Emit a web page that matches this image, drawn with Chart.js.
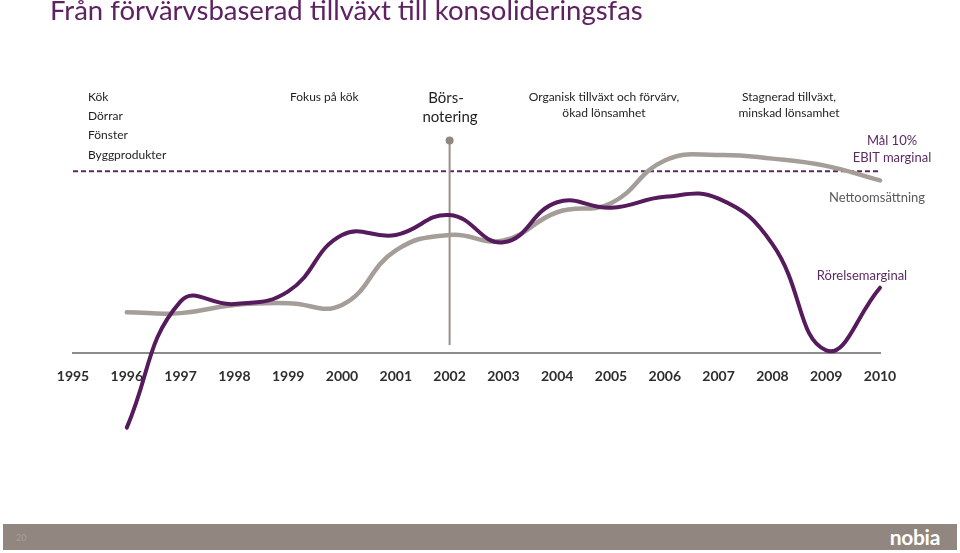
<!DOCTYPE html>
<html>
<head>
<meta charset="utf-8">
<script src="https://cdn.jsdelivr.net/npm/chart.js@4.4.1/dist/chart.umd.min.js"></script>
<style>
  html, body { margin:0; padding:0; background:#fff; }
  #wrap { position:relative; width:960px; height:553px; overflow:hidden; font-family: Lato, "Open Sans", sans-serif; }
  #c { position:absolute; left:0; top:0; }
  .t { position:absolute; white-space:nowrap; transform:translate(-50%,-50%); font-size:12px; color:#1e1e1e; line-height:1; }
  .l { position:absolute; white-space:nowrap; transform:translateY(-50%); font-size:12px; color:#1e1e1e; line-height:1; }
  .big { font-size:13px; }
  .title { position:absolute; left:50px; top:-7px; font-size:27.5px; color:#5e2262; white-space:nowrap; }
  .purple { color:#5c2a63; }
  .gray { color:#5a5a5a; }
  #footer { position:absolute; left:3px; top:524px; width:954px; height:26px; background:#928680; }
  #pg { position:absolute; left:13px; top:8px; font-size:9px; color:#a89f9a; }
  #logo { position:absolute; right:17px; top:0px; font-size:21px; font-weight:700; color:#fff; letter-spacing:-0.3px; }
</style>
</head>
<body>
<div id="wrap">
  <canvas id="c" width="960" height="553"></canvas>
  <div class="title">Från förvärvsbaserad tillväxt till konsolideringsfas</div>

  <div class="l" style="left:88px; top:97px;">Kök</div>
  <div class="l" style="left:88px; top:116px;">Dörrar</div>
  <div class="l" style="left:88px; top:135px;">Fönster</div>
  <div class="l" style="left:88px; top:155px;">Byggprodukter</div>
  <div class="l" style="left:290px; top:97px;">Fokus på kök</div>
  <div class="t" style="left:446px; top:97px; font-size:15px;">Börs-</div>
  <div class="t" style="left:450px; top:116px; font-size:15px;">notering</div>
  <div class="t" style="left:604px; top:97px;">Organisk tillväxt och förvärv,</div>
  <div class="t" style="left:604px; top:113px;">ökad lönsamhet</div>
  <div class="t" style="left:789px; top:97px;">Stagnerad tillväxt,</div>
  <div class="t" style="left:789px; top:113px;">minskad lönsamhet</div>
  <div class="t big purple" style="left:892px; top:140px;">Mål 10%</div>
  <div class="t big purple" style="left:892px; top:157px;">EBIT marginal</div>
  <div class="t big gray" style="left:877px; top:197px;">Nettoomsättning</div>
  <div class="t big purple" style="left:862px; top:275px;">Rörelsemarginal</div>

  <div id="footer"><div id="pg">20</div><div id="logo">nobia</div></div>
</div>
<script>
// ---- data ----
const years = ['1995','1996','1997','1998','1999','2000','2001','2002','2003','2004','2005','2006','2007','2008','2009','2010'];
// Rörelsemarginal (operating margin, %)
const rorelsemarginal = [null, -4.1, 2.85, 2.7, 3.4, 6.5, 6.5, 7.6, 6.1, 8.3, 8.0, 8.6, 8.5, 6.0, 0.15, 3.6];
// Nettoomsättning (index, same visual scale)
const nettoomsattning = [null, 2.25, 2.2, 2.65, 2.75, 2.65, 5.65, 6.5, 6.2, 7.75, 8.25, 10.6, 10.9, 10.7, 10.3, 9.5];
// Target: Mål 10% EBIT marginal
const malEbit = [10, 10, 10, 10, 10, 10, 10, 10, 10, 10, 10, 10, 10, 10, 10, 10];
// Börsnotering marker (2002)
const borsYear = '2002';
const borsMarker = [11.7, 0.45];

const ctx = document.getElementById('c').getContext('2d');
new Chart(ctx, {
  type: 'line',
  data: {
    labels: years,
    datasets: [
      {
        label: 'Rörelsemarginal',
        data: rorelsemarginal,
        borderColor: '#561b5c',
        borderWidth: 4,
        pointRadius: 0,
        tension: 0.45,
        fill: false,
        clip: false,
        borderCapStyle: 'round'
      },
      {
        label: 'Nettoomsättning',
        data: nettoomsattning,
        borderColor: '#a59d98',
        borderWidth: 4.5,
        pointRadius: 0,
        tension: 0.45,
        fill: false,
        clip: false,
        borderCapStyle: 'round'
      },
      {
        label: 'Börsnotering',
        data: borsMarker.map(v => ({x: borsYear, y: v})),
        borderColor: '#9a8f8b',
        backgroundColor: '#918682',
        borderWidth: 2,
        pointRadius: [4, 0],
        pointBorderWidth: 0,
        tension: 0,
        clip: false
      },
      {
        label: 'Mål 10% EBIT marginal',
        data: malEbit,
        borderColor: '#5c2a63',
        borderWidth: 2,
        borderDash: [5, 3],
        pointRadius: 0,
        tension: 0,
        clip: false
      }
    ]
  },
  options: {
    responsive: false,
    animation: false,
    events: [],
    layout: { padding: { left: 73, right: 80, top: 135, bottom: 109 } },
    plugins: { legend: { display: false }, tooltip: { enabled: false }, title: { display: false } },
    scales: {
      x: {
        type: 'category',
        position: { y: 0 },
        offset: false,
        grid: { display: false, drawTicks: false },
        border: { display: true, color: '#8c8c8c', width: 2 },
        ticks: {
          padding: 15,
          autoSkip: false,
          maxRotation: 0,
          color: '#2e2e2e',
          font: { family: 'Lato, "Open Sans", sans-serif', size: 14, weight: 'bold' }
        }
      },
      y: {
        display: false,
        min: -5,
        max: 12
      }
    }
  }
});
</script>
</body>
</html>
